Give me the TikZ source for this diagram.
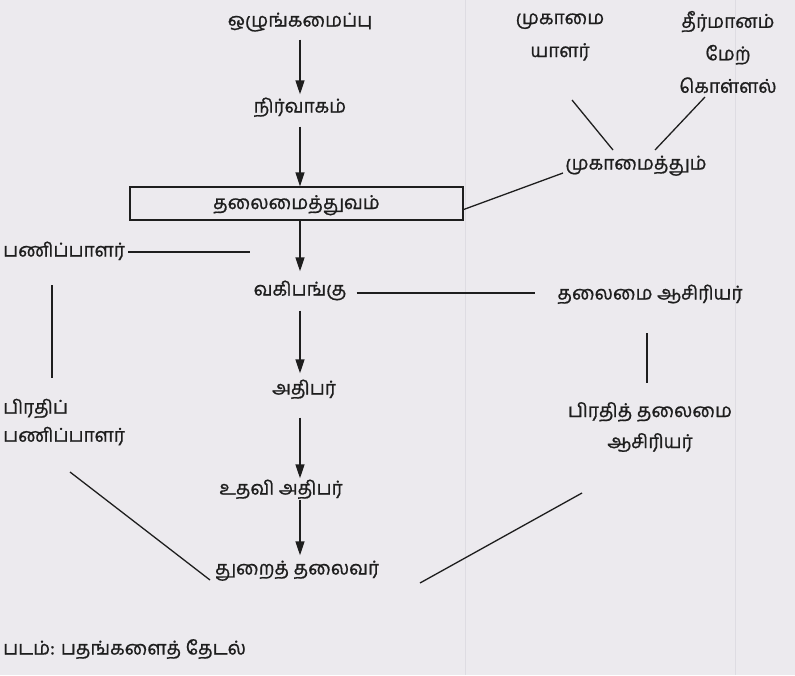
\documentclass[tikz,border=0pt]{standalone}
\usepackage{fontspec}
\setmainfont[Script=Tamil, FakeBold=0.9]{Hind Madurai}
\usetikzlibrary{arrows.meta}
\definecolor{ink}{HTML}{1E1E1E}
\definecolor{bg}{HTML}{ECEAEE}
\definecolor{faint}{HTML}{DEDCE2}
\begin{document}
\begin{tikzpicture}[x=1pt,y=-1pt,
  lbl/.style={font=\fontsize{19}{23}\selectfont, text=ink, inner sep=0pt, text height=14pt, text depth=5pt},
  ml/.style={lbl, align=center, text height=, text depth=},
  arr/.style={draw=ink, line width=1.4pt, -{Triangle[length=14pt,width=9pt]}},
  ln/.style={draw=ink, line width=1.3pt},
  boxst/.style={lbl, draw=ink, line width=1.3pt, minimum width=333pt, minimum height=33pt, text depth=3pt}]
\fill[bg] (0,0) rectangle (795,675);
\useasboundingbox (0,0) rectangle (795,675);
\draw[faint, line width=1pt] (465,0) -- (465,675);
\draw[faint, line width=1pt] (735,0) -- (735,675);
% nodes
\node[lbl] (org) at (300,22) {ஒழுங்கமைப்பு};
\node[lbl] (nir) at (300,108) {நிர்வாகம்};
\node[boxst] (box) at (296.5,203.5) {தலைமைத்துவம்};
\node[ml, font=\fontsize{19}{33}\selectfont] (mugy) at (560,37) {முகாமை\\யாளர்};
\node[ml, font=\fontsize{19}{32.5}\selectfont] (thir) at (728,52) {தீர்மானம்\\மேற்\\கொள்ளல்};
\node[lbl] (mug) at (636,165) {முகாமைத்தும்};
\node[lbl, anchor=west] (pani) at (3,252) {பணிப்பாளர்};
\node[lbl] (vagi) at (300,291) {வகிபங்கு};
\node[lbl] (thas) at (650,295) {தலைமை ஆசிரியர்};
\node[lbl] (athi) at (304,390) {அதிபர்};
\node[ml, font=\fontsize{19}{28}\selectfont, align=left, anchor=west] (pirpani) at (3,422) {பிரதிப்\\பணிப்பாளர்};
\node[ml, font=\fontsize{19}{31}\selectfont] (pirthas) at (650,427) {பிரதித் தலைமை\\ஆசிரியர்};
\node[lbl] (uthavi) at (281,490) {உதவி அதிபர்};
\node[lbl] (thurai) at (297,570) {துறைத் தலைவர்};
\node[lbl, anchor=west] (cap) at (3,650) {படம்: பதங்களைத் தேடல்};
% free-end coordinates
\coordinate (m1) at (572,100); \coordinate (m2) at (613,150);
\coordinate (t1) at (705,97);  \coordinate (t2) at (655,150);
\coordinate (b1) at (563,173);
\coordinate (p1) at (250,252);
\coordinate (v1) at (52,285);  \coordinate (v2) at (52,378);
\coordinate (h1) at (535,293);
\coordinate (w1) at (647,333); \coordinate (w2) at (647,383);
\coordinate (d1) at (70,472);  \coordinate (d2) at (210,580);
\coordinate (e1) at (420,583); \coordinate (e2) at (582,493);
% arrows
\draw[arr, shorten <=8pt, shorten >=4pt] (org) -- (nir);
\draw[arr, shorten <=9pt] (nir) -- (box.north -| nir);
\draw[arr, shorten >=10pt] (box.south -| vagi) -- (vagi);
\draw[arr, shorten <=10pt, shorten >=7pt] (vagi) -- (athi.north -| vagi);
\draw[arr, shorten <=18pt, shorten >=2pt] (athi.south -| vagi) -- (uthavi.north -| vagi);
\draw[arr, shorten <=0pt, shorten >=5pt] (uthavi.south -| vagi) -- (thurai.north -| vagi);
% lines
\draw[ln] (m1) -- (m2);
\draw[ln] (t1) -- (t2);
\draw[ln] ([yshift=-6pt]box.east) -- (b1);
\draw[ln] ([xshift=3pt]pani.east) -- (p1);
\draw[ln] (v1) -- (v2);
\draw[ln] ([xshift=10pt]vagi.east |- h1) -- (h1);
\draw[ln] (w1) -- (w2);
\draw[ln] (d1) -- (d2);
\draw[ln] (e1) -- (e2);
\end{tikzpicture}
\end{document}
